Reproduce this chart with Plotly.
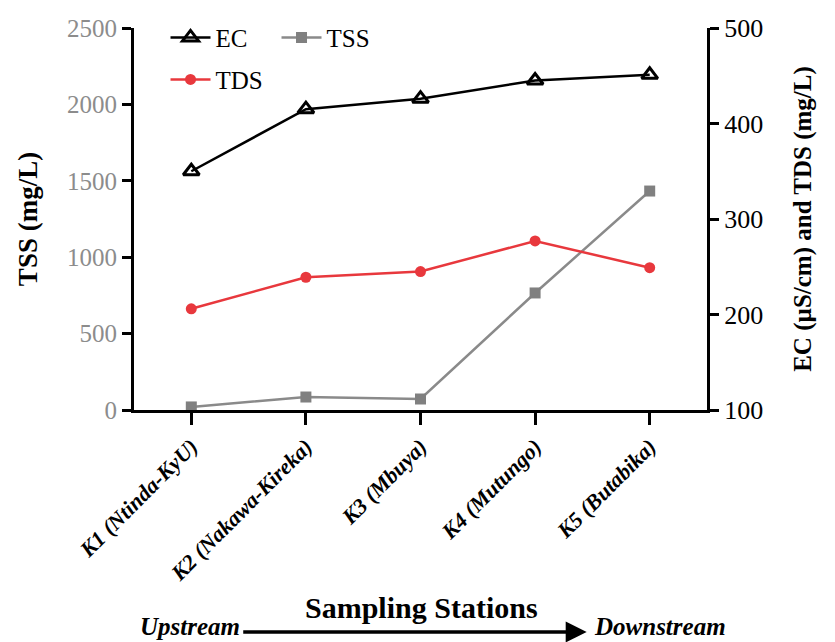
import plotly.graph_objects as go

stations = ["K1 (Ntinda-KyU)", "K2 (Nakawa-Kireka)", "K3 (Mbuya)", "K4 (Mutungo)", "K5 (Butabika)"]
ec = [350, 415, 426, 445, 451]
tds = [206, 239, 245, 277, 249]
tss = [20, 85, 72, 766, 1433]

SERIF = "Liberation Serif"

fig = go.Figure()
fig.add_trace(go.Scatter(x=stations, y=ec, name="EC", yaxis="y2", mode="lines+markers",
                         line=dict(color="black", width=2.5),
                         marker=dict(symbol="triangle-up-open", size=14, color="black", line=dict(width=3)),
                         legend="legend"))
fig.add_trace(go.Scatter(x=stations, y=tss, name="TSS", yaxis="y", mode="lines+markers",
                         line=dict(color="#8a8a8a", width=2.5),
                         marker=dict(symbol="square", size=11, color="#808080"),
                         legend="legend"))
fig.add_trace(go.Scatter(x=stations, y=tds, name="TDS", yaxis="y2", mode="lines+markers",
                         line=dict(color="#e8383d", width=2.5),
                         marker=dict(symbol="circle", size=11, color="#e8383d"),
                         legend="legend2"))

fig.update_layout(
    width=835, height=642,
    margin=dict(l=134, r=128, t=28, b=232),
    paper_bgcolor="white", plot_bgcolor="white",
    font=dict(family=SERIF, color="black"),
    xaxis=dict(type="category", range=[-0.5, 4.5], showgrid=False, zeroline=False,
               showline=True, linecolor="black", linewidth=3,
               ticks="outside", ticklen=12, tickwidth=3, tickcolor="black",
               tickangle=-45,
               tickfont=dict(family=SERIF, size=22, weight="bold", style="italic", color="black")),
    yaxis=dict(range=[0, 2500], dtick=500, showgrid=False, zeroline=False,
               showline=True, linecolor="black", linewidth=3,
               ticks="outside", ticklen=9, tickwidth=3, tickcolor="black",
               tickfont=dict(family=SERIF, size=25, color="#8c8c8c"),
               title=dict(text="TSS (mg/L)", font=dict(family=SERIF, size=27, weight="bold", color="black"), standoff=22)),
    yaxis2=dict(range=[100, 500], dtick=100, overlaying="y", side="right", showgrid=False, zeroline=False,
                showline=True, linecolor="black", linewidth=3,
                ticks="outside", ticklen=9, tickwidth=3, tickcolor="black",
                tickfont=dict(family=SERIF, size=26, color="black"),
                title=dict(text="EC (µS/cm) and TDS (mg/L)", font=dict(family=SERIF, size=25, weight="bold", color="black"), standoff=32)),
    legend=dict(orientation="h", x=0.055, y=1.035, xanchor="left", yanchor="top",
                font=dict(family=SERIF, size=25), bgcolor="rgba(0,0,0,0)", itemwidth=40,
                entrywidth=56, tracegroupgap=0),
    legend2=dict(orientation="h", x=0.055, y=0.925, xanchor="left", yanchor="top",
                 font=dict(family=SERIF, size=25), bgcolor="rgba(0,0,0,0)", itemwidth=40),
)

fig.add_annotation(text="Sampling Stations", xref="paper", yref="paper", x=0.501, y=-0.516,
                   xanchor="center", yanchor="middle",
                   showarrow=False, font=dict(family=SERIF, size=30, weight="bold", color="black"))
fig.add_annotation(text="Upstream", xref="paper", yref="paper", x=0.188, y=-0.568, xanchor="right", yanchor="middle",
                   showarrow=False, font=dict(family=SERIF, size=25, weight="bold", style="italic", color="black"))
fig.add_annotation(text="Downstream", xref="paper", yref="paper", x=0.799, y=-0.568, xanchor="left", yanchor="middle",
                   showarrow=False, font=dict(family=SERIF, size=25, weight="bold", style="italic", color="black"))
fig.add_annotation(text="", xref="x domain", yref="y domain", x=0.79, y=-0.581,
                   ax=0.188, ay=-0.581, axref="x domain", ayref="y domain",
                   showarrow=True, arrowhead=2, arrowsize=1.2, arrowwidth=3.5, arrowcolor="black", standoff=0)

fig.write_html("out.html")
